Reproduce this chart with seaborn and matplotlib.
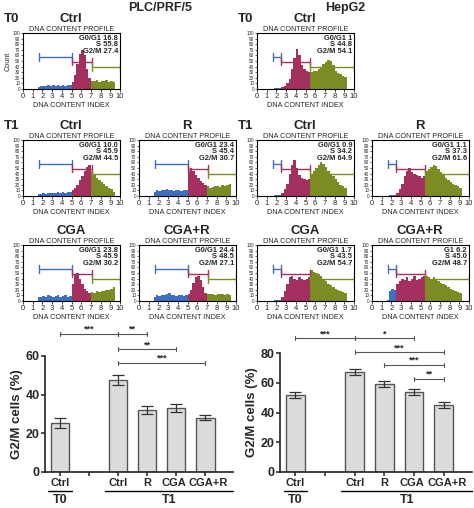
import numpy as np
import pandas as pd
import matplotlib
matplotlib.use("Agg")
import matplotlib.pyplot as plt
import matplotlib.transforms as mtrans
import seaborn as sns

sns.set_style("white")
plt.rcParams['font.family'] = ['Liberation Sans', 'DejaVu Sans']

# ---- histogram data (bin width 0.25, centres 1.625 ... 9.625) ----
bin_centres = [1.625 + 0.25 * i for i in range(33)]

plc_t0_ctrl = [4,5,6,5,7,6,8,5,7,6, 8,6,7,8,12, 25,45,62,70,60,35,20, 15,14,16,13,15,14,16,13,15,12,0]
plc_t1_ctrl = [3,4,5,4,6,5,6,5,7,6, 7,6,8,7,10, 14,20,28,35,45,52,55, 45,38,33,28,25,22,18,15,12,8,0]
plc_t1_r    = [8,10,9,11,10,12,10,11,9,10, 11,9,10,11,45, 50,44,38,32,27,24,20, 18,15,16,17,18,16,19,18,20,21,0]
plc_cga     = [7,8,9,8,10,9,8,9,10,8, 9,10,8,9,30, 48,50,40,30,22,18,15, 16,15,17,16,18,17,19,20,22,25,0]
plc_cga_r   = [8,10,9,11,10,12,14,10,11,9, 10,11,9,10,12, 20,32,42,45,38,25,15, 13,12,13,11,12,13,12,11,12,10,0]

hep_t0_ctrl = [0,1,1,1, 3,6,10,18,35,55,72,60,42,35,32,30, 30,32,33,36,40,44,48,52,50,42,33,28,26,24,22,0,0]
hep_t1_ctrl = [0,1,2,1, 5,12,22,40,55,65,50,38,32,30,28,30, 40,45,50,55,60,58,52,45,40,35,30,25,20,18,15,0,0]
hep_t1_r    = [0,1,2,1, 6,12,22,35,45,50,42,40,38,35,33,35, 45,48,52,55,53,48,42,38,32,28,25,22,20,18,15,0,0]
hep_cga     = [0,2,1,2, 8,18,30,42,45,40,38,42,40,38,40,42, 55,52,50,48,45,40,35,30,28,25,22,20,18,16,14,0,0]
hep_cga_r   = [2,18,22,20, 30,35,40,38,42,35,40,45,38,40,42,44, 45,42,40,43,38,35,32,30,28,25,22,20,18,16,14,0,0]

plc_gates = [1.7, 5.1, 7.1, 10.0]
hep_gates = [1.7, 2.5, 5.5, 10.0]

# panel: (name, counts, gates, stat labels, stat values, left px, top px, count label)
panels = [
    ("Ctrl", plc_t0_ctrl, plc_gates, ["G0/G1", "S", "G2/M"], ["16.8", "55.8", "27.4"], 23, 33, True),
    ("Ctrl", hep_t0_ctrl, hep_gates, ["G0/G1", "S", "G2/M"], ["1", "44.8", "54.1"], 257, 33, False),
    ("Ctrl", plc_t1_ctrl, plc_gates, ["G0/G1", "S", "G2/M"], ["10.0", "45.9", "44.5"], 23, 140, False),
    ("R", plc_t1_r, plc_gates, ["G0/G1", "S", "G2/M"], ["23.4", "45.4", "30.7"], 139, 140, False),
    ("Ctrl", hep_t1_ctrl, hep_gates, ["G0/G1", "S", "G2/M"], ["0.9", "34.2", "64.9"], 257, 140, False),
    ("R", hep_t1_r, hep_gates, ["G0/G1", "S", "G2/M"], ["1.1", "37.3", "61.6"], 372, 140, False),
    ("CGA", plc_cga, plc_gates, ["G0/G1", "S", "G2/M"], ["23.8", "45.9", "30.2"], 23, 245, False),
    ("CGA+R", plc_cga_r, plc_gates, ["G0/G1", "S", "G2/M"], ["24.4", "48.5", "27.1"], 139, 245, False),
    ("CGA", hep_cga, hep_gates, ["G0/G1", "S", "G2/M"], ["1.7", "43.5", "54.7"], 257, 245, False),
    ("CGA+R", hep_cga_r, hep_gates, ["G1", "S", "G2/M"], ["6.2", "45.0", "48.7"], 372, 245, False),
]

# ---- bar chart data ----
bar_labels = ["Ctrl", "", "Ctrl", "R", "CGA", "CGA+R"]
bar_pos = [0, 2, 3, 4, 5]
plc_g2m = [25.5, 47.5, 32.0, 33.0, 28.0]
plc_err = [2.5, 2.5, 2.0, 2.0, 1.3]
hep_g2m = [52.0, 67.0, 59.0, 54.0, 45.0]
hep_err = [2.0, 2.0, 2.0, 2.0, 2.0]
# brackets: (x1, x2, y, stars)
plc_sig = [(0, 2, 71.5, "***"), (2, 3, 71.5, "**"), (2, 4, 63.5, "**"), (2, 5, 56.5, "***")]
hep_sig = [(0, 2, 90, "***"), (2, 4, 90, "*"), (2, 5, 80.5, "***"), (3, 5, 72, "***"), (4, 5, 62.5, "**")]

BLUE, MAG, OLIVE = "#3f6fc0", "#a3305e", "#7d8c22"
gate_y = [57, 49, 39]

W, H = 474, 508
fig = plt.figure(figsize=(W / 100, H / 100), dpi=100)


def px_axes(l, t, w, h):
    return fig.add_axes([l / W, 1 - (t + h) / H, w / W, h / H])


def ftext(x, y, s, **kw):
    fig.text(x / W, 1 - y / H, s, **kw)


for name, counts, gates, slab, sval, l, t, count_lab in panels:
    ax = px_axes(l, t, 97, 56)
    cols = []
    for c in bin_centres:
        if c < gates[1]:
            cols.append(BLUE)
        elif c < gates[2]:
            cols.append(MAG)
        else:
            cols.append(OLIVE)
    ax.bar(bin_centres, counts, width=0.25, color=cols, linewidth=0)
    for (a, b), col, gy in zip(zip(gates[:-1], gates[1:]), [BLUE, MAG, OLIVE], gate_y):
        ax.plot([a, b], [gy, gy], color=col, lw=1.0)
        ax.plot([a, a], [gy - 7, gy + 7], color=col, lw=1.0)
        ax.plot([b, b], [gy - 7, gy + 7], color=col, lw=1.0)
    ax.set_xlim(0, 10)
    ax.set_ylim(0, 100)
    ax.set_xticks(range(11))
    ax.set_yticks(range(0, 101, 10))
    ax.tick_params(axis='x', labelsize=5.5, length=2, pad=1, width=0.6, bottom=True)
    ax.tick_params(axis='y', labelsize=3.3, length=1.5, pad=0.5, width=0.5, left=True)
    for sp in ax.spines.values():
        sp.set_linewidth(0.8)
        sp.set_color("black")
    ax.set_xlabel("DNA CONTENT INDEX", fontsize=5.2, labelpad=1)
    ax.set_title("DNA CONTENT PROFILE", fontsize=5.2, pad=1.5)
    if count_lab:
        ax.set_ylabel("Count", fontsize=5.2, labelpad=1)
    txt = "\n".join(f"{a} {b}" for a, b in zip(slab, sval))
    ax.text(0.98, 0.97, txt, transform=ax.transAxes, ha="right", va="top",
            fontsize=5.4, fontweight="bold", linespacing=0.95)
    ftext(l + 48, t - 14, name, fontsize=9.5, fontweight="bold", ha="center", va="center")

ftext(160, 8, "PLC/PRF/5", fontsize=9, fontweight="bold", ha="center", va="center")
ftext(345, 8, "HepG2", fontsize=9, fontweight="bold", ha="center", va="center")
ftext(12, 19, "T0", fontsize=9.5, fontweight="bold", ha="center", va="center")
ftext(246, 19, "T0", fontsize=9.5, fontweight="bold", ha="center", va="center")
ftext(12, 126, "T1", fontsize=9.5, fontweight="bold", ha="center", va="center")
ftext(246, 126, "T1", fontsize=9.5, fontweight="bold", ha="center", va="center")


def bar_panel(l, r, top, ymax, yticks, vals, errs, sig):
    ax = px_axes(l, top, r - l, 472 - top)
    df = pd.DataFrame({"pos": bar_pos, "val": vals})
    sns.barplot(data=df, x="pos", y="val", native_scale=True, width=0.63,
                color="#dcdcdc", edgecolor="#555555", linewidth=1.0, ax=ax)
    ax.errorbar(bar_pos, vals, yerr=errs, fmt="none", ecolor="#333333",
                elinewidth=0.9, capsize=4, capthick=0.9)
    ax.set_xlim(-0.52, 5.95)
    ax.set_ylim(0, ymax)
    ax.set_yticks(yticks)
    ax.set_xticks(range(6))
    ax.set_xticklabels(bar_labels)
    ax.tick_params(axis='both', labelsize=8, length=3, width=1.1, pad=1,
                   bottom=True, left=True, color="#222222")
    ax.tick_params(axis='y', labelsize=9)
    labs = ax.get_xticklabels()
    for lab in labs + ax.get_yticklabels():
        lab.set_fontweight("bold")
    # nudge the two crowded labels apart a little
    for lab, dx in [(labs[4], -2), (labs[5], 3)]:
        lab.set_transform(lab.get_transform() +
                          mtrans.ScaledTranslation(dx / 100, 0, fig.dpi_scale_trans))
    sns.despine(ax=ax)
    for sp in ["left", "bottom"]:
        ax.spines[sp].set_linewidth(1.2)
        ax.spines[sp].set_color("#222222")
    ax.set_xlabel("")
    ax.set_ylabel("G2/M cells (%)", fontsize=9.5, fontweight="bold", labelpad=2)
    tick = ymax * 0.018
    for x1, x2, y, s in sig:
        ax.plot([x1, x2], [y, y], color="#555555", lw=0.8, clip_on=False)
        ax.plot([x1, x1], [y - tick, y + tick], color="#555555", lw=0.8, clip_on=False)
        ax.plot([x2, x2], [y - tick, y + tick], color="#555555", lw=0.8, clip_on=False)
        ax.text((x1 + x2) / 2, y, s, ha="center", va="bottom", fontsize=6.5,
                fontweight="bold", clip_on=False)
    tr = mtrans.blended_transform_factory(ax.transData, fig.transFigure)
    yl = 1 - 491 / H
    ax.plot([-0.4, 0.4], [yl, yl], transform=tr, color="black", lw=1.0, clip_on=False)
    ax.plot([1.55, 5.95], [yl, yl], transform=tr, color="black", lw=1.0, clip_on=False)
    ax.text(0, 1 - 500 / H, "T0", transform=tr, ha="center", va="center",
            fontsize=9, fontweight="bold")
    ax.text(3.75, 1 - 500 / H, "T1", transform=tr, ha="center", va="center",
            fontsize=9, fontweight="bold")
    return ax


bar_panel(45, 233, 356, 60, [0, 20, 40, 60], plc_g2m, plc_err, plc_sig)
bar_panel(280, 472, 353, 80, [0, 20, 40, 60, 80], hep_g2m, hep_err, hep_sig)

fig.savefig("out.png", dpi=100)
